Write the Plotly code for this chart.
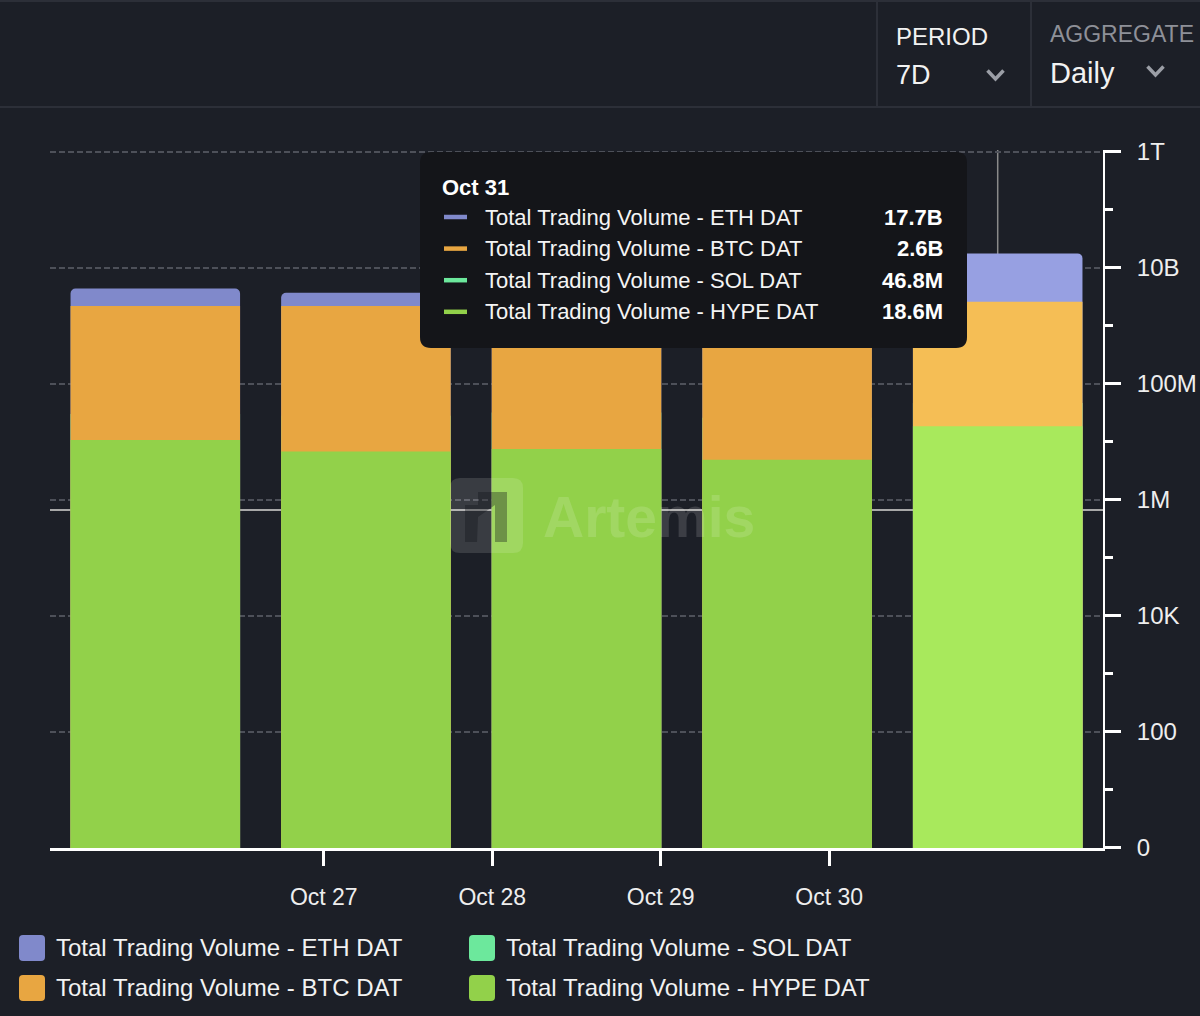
import plotly.graph_objects as go

# ---------------- data ----------------
dates = ["Oct 27", "Oct 28", "Oct 29", "Oct 30", "Oct 31"]
bar_pos = [0, 1, 2, 3, 4]
series_names = [
    "Total Trading Volume - ETH DAT",
    "Total Trading Volume - BTC DAT",
    "Total Trading Volume - SOL DAT",
    "Total Trading Volume - HYPE DAT",
]
eth_vol = [4.4e9, 3.7e9, 4.0e9, 3.5e9, 17.7e9]
btc_vol = [2.2e9, 2.2e9, 2.3e9, 2.0e9, 2.6e9]
sol_vol = [3.0e7, 2.8e7, 3.2e7, 2.6e7, 46.8e6]
hype_vol = [10.7e6, 6.8e6, 7.5e6, 4.9e6, 18.6e6]

x_tick_pos = [0.8, 1.6, 2.4, 3.2]
x_tick_text = ["Oct 27", "Oct 28", "Oct 29", "Oct 30"]
y_tick_vals = [1, 1e2, 1e4, 1e6, 1e8, 1e10, 1e12]
y_tick_text = ["0", "100", "10K", "1M", "100M", "10B", "1T"]
y_minor_vals = [1e1, 1e3, 1e5, 1e7, 1e9, 1e11]
hover_index = 4

# ---------------- style ----------------
FONT = "Liberation Sans, Arial, sans-serif"
BG = "#1c1f27"
SEP = "#2c2f38"
col = {
    "ETH": ("#8089cb", "#97a0e2"),
    "BTC": ("#e8a641", "#f5be55"),
    "SOL": ("#6ce89c", "#80f0ac"),
    "HYPE": ("#92d14a", "#a8e95c"),
}

L, R, T, B = 50, 1103, 150, 848


def px(x):
    return (x - L) / (R - L)


def py(y):
    return (B - y) / (B - T)


def rr_path(x0, y0, x1, y1, r):
    p = [
        f"M{px(x0 + r)},{py(y0)}",
        f"L{px(x1 - r)},{py(y0)}",
        f"Q{px(x1)},{py(y0)} {px(x1)},{py(y0 + r)}",
        f"L{px(x1)},{py(y1 - r)}",
        f"Q{px(x1)},{py(y1)} {px(x1 - r)},{py(y1)}",
        f"L{px(x0 + r)},{py(y1)}",
        f"Q{px(x0)},{py(y1)} {px(x0)},{py(y1 - r)}",
        f"L{px(x0)},{py(y0 + r)}",
        f"Q{px(x0)},{py(y0)} {px(x0 + r)},{py(y0)}",
        "Z",
    ]
    return " ".join(p)


def colors(key):
    n, h = col[key]
    return [h if i == hover_index else n for i in range(len(bar_pos))]


def fmt(v):
    for d, s in ((1e12, "T"), (1e9, "B"), (1e6, "M"), (1e3, "K")):
        if v >= d:
            return f"{v / d:.1f}{s}"
    return f"{v:.0f}"


fig = go.Figure()
# overlay draw order: ETH (tallest) -> SOL -> BTC -> HYPE
fig.add_trace(go.Bar(x=bar_pos, y=eth_vol, name=series_names[0], customdata=dates,
                     marker=dict(color=colors("ETH"), line_width=0, cornerradius=5)))
fig.add_trace(go.Bar(x=bar_pos, y=sol_vol, name=series_names[2], customdata=dates,
                     marker=dict(color=colors("SOL"), line_width=0)))
fig.add_trace(go.Bar(x=bar_pos, y=btc_vol, name=series_names[1], customdata=dates,
                     marker=dict(color=colors("BTC"), line_width=0)))
fig.add_trace(go.Bar(x=bar_pos, y=hype_vol, name=series_names[3], customdata=dates,
                     marker=dict(color=colors("HYPE"), line_width=0)))

shapes = []
ann = []

# crosshair (behind bars)
shapes.append(dict(type="line", xref="paper", yref="paper", x0=0, x1=1,
                   y0=py(510), y1=py(510), line=dict(color="#a8a8a8", width=2), layer="between"))
shapes.append(dict(type="line", xref="x", yref="paper", x0=bar_pos[hover_index], x1=bar_pos[hover_index],
                   y0=0, y1=1, line=dict(color="#8a8a8a", width=1.5), layer="between"))

# header
shapes.append(dict(type="line", xref="paper", yref="paper", x0=px(0), x1=px(1200),
                   y0=py(107), y1=py(107), line=dict(color=SEP, width=2)))
shapes.append(dict(type="line", xref="paper", yref="paper", x0=px(0), x1=px(1200),
                   y0=py(1), y1=py(1), line=dict(color=SEP, width=2)))
for xs in (877, 1031):
    shapes.append(dict(type="line", xref="paper", yref="paper", x0=px(xs), x1=px(xs),
                       y0=py(0), y1=py(107), line=dict(color=SEP, width=2)))
for cx, cy in ((995.5, 75), (1155.5, 71)):
    shapes.append(dict(type="path", xref="paper", yref="paper",
                       path=f"M{px(cx - 8)},{py(cy - 4.5)} L{px(cx)},{py(cy + 4)} L{px(cx + 8)},{py(cy - 4.5)}",
                       line=dict(color="#9b9ea6", width=3.5)))

ann += [
    dict(text="PERIOD", x=px(894), y=py(36), font=dict(size=24, color="#f2f2f2")),
    dict(text="7D", x=px(894), y=py(75), font=dict(size=27, color="#f2f2f2")),
    dict(text="AGGREGATE", x=px(1048), y=py(34), font=dict(size=23, color="#8e9098")),
    dict(text="Daily", x=px(1048), y=py(73), font=dict(size=29, color="#f2f2f2")),
]

# watermark
shapes.append(dict(type="path", xref="paper", yref="paper", path=rr_path(450, 478, 523, 553, 10),
                   fillcolor="rgba(255,255,255,0.13)", line_width=0, layer="above"))
glyph = [(465, 542), (465, 505), (478, 505), (478, 492), (507, 492), (507, 542), (495, 542),
         (495, 505), (478, 517), (477, 542)]
shapes.append(dict(type="path", xref="paper", yref="paper",
                   path="M" + " L".join(f"{px(a)},{py(b)}" for a, b in glyph) + " Z",
                   fillcolor="rgba(15,17,22,0.35)", line_width=0, layer="above"))
ann.append(dict(text="<b>Artemis</b>", x=px(649), y=py(517), xanchor="center",
                font=dict(size=57, color="rgba(255,255,255,0.14)")))

# tooltip
shapes.append(dict(type="path", xref="paper", yref="paper", path=rr_path(420, 152, 967, 348, 11),
                   fillcolor="#141519", line_width=0, layer="above"))
ann.append(dict(text=f"<b>{dates[hover_index]}</b>", x=px(440), y=py(187),
                font=dict(size=22, color="#ffffff")))
tip_rows = [
    (series_names[0], eth_vol, col["ETH"][0]),
    (series_names[1], btc_vol, col["BTC"][0]),
    (series_names[2], sol_vol, col["SOL"][0]),
    (series_names[3], hype_vol, col["HYPE"][0]),
]
for k, (name, vals, c) in enumerate(tip_rows):
    ry = 217 + k * 31.6
    shapes.append(dict(type="line", xref="paper", yref="paper", x0=px(444), x1=px(467),
                       y0=py(ry), y1=py(ry), line=dict(color=c, width=4.5), layer="above"))
    ann.append(dict(text=name, x=px(483), y=py(ry), font=dict(size=22, color="#f4f4f4")))
    ann.append(dict(text=f"<b>{fmt(vals[hover_index])}</b>", x=px(945), y=py(ry), xanchor="right",
                    font=dict(size=22, color="#ffffff")))

# legend (manual, 2 x 2)
legend_items = [
    (series_names[0], col["ETH"][0], 0, 0),
    (series_names[2], col["SOL"][0], 1, 0),
    (series_names[1], col["BTC"][0], 0, 1),
    (series_names[3], col["HYPE"][0], 1, 1),
]
for name, c, cc, rr in legend_items:
    lx = 19 + cc * 450
    ly = 948 + rr * 40
    shapes.append(dict(type="path", xref="paper", yref="paper", path=rr_path(lx, ly - 13, lx + 26, ly + 13, 4),
                       fillcolor=c, line_width=0))
    ann.append(dict(text=name, x=px(lx + 35), y=py(ly - 1), font=dict(size=24, color="#f2f2f2")))

for a in ann:
    a.setdefault("xref", "paper")
    a.setdefault("yref", "paper")
    a.setdefault("xanchor", "left")
    a.setdefault("yanchor", "middle")
    a.setdefault("showarrow", False)
    a["font"].setdefault("family", FONT)

fig.update_layout(
    width=1200, height=1016,
    margin=dict(l=L, r=1200 - R, t=T, b=1016 - B, autoexpand=False),
    paper_bgcolor=BG, plot_bgcolor=BG,
    barmode="overlay", bargap=0.195,
    showlegend=False, hovermode=False,
    font=dict(family=FONT, color="#eeeeee", size=23),
    shapes=shapes, annotations=ann,
    xaxis=dict(range=[-0.5, 4.5], tickmode="array", tickvals=x_tick_pos, ticktext=x_tick_text,
               automargin=False,
               showgrid=False, zeroline=False, showline=True, linecolor="#ffffff", linewidth=3,
               ticks="outside", ticklen=15, tickwidth=3, tickcolor="#ffffff",
               ticklabelstandoff=11, tickfont=dict(size=23, color="#eeeeee")),
    yaxis=dict(type="log", range=[-0.002, 12.03], side="right", tickmode="array",
               tickvals=y_tick_vals, ticktext=y_tick_text, automargin=False,
               showgrid=True, gridcolor="#4d5059", gridwidth=1.5, griddash="6px,3px",
               zeroline=False, showline=True, linecolor="#ffffff", linewidth=2,
               ticks="outside", ticklen=16, tickwidth=3, tickcolor="#ffffff",
               ticklabelstandoff=11, tickfont=dict(size=24, color="#eeeeee"),
               minor=dict(tickmode="array", tickvals=y_minor_vals, ticks="outside", ticklen=8,
                          tickwidth=3, tickcolor="#ffffff", showgrid=False)),
)

fig.write_html(
    "out.html",
    config={"displayModeBar": False},
    post_script=f"document.body.style.margin='0';document.body.style.background='{BG}';",
)
